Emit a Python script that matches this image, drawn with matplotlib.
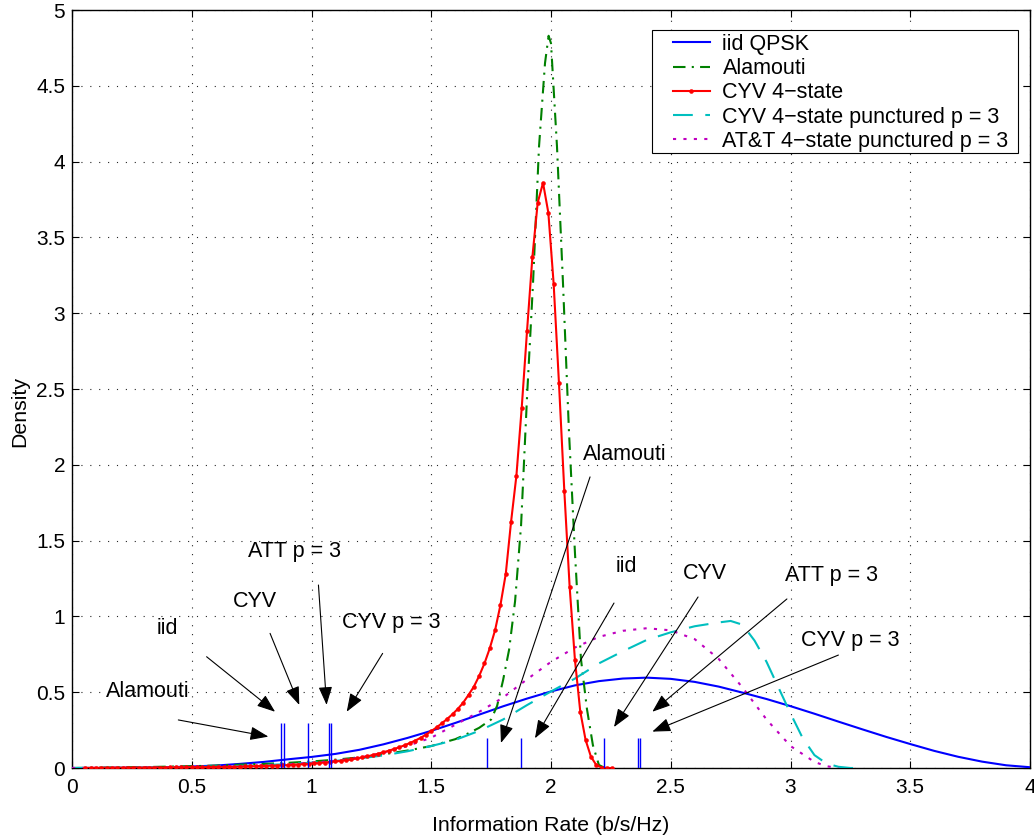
import numpy as np
import matplotlib
matplotlib.use("Agg")
import matplotlib.pyplot as plt
from matplotlib.patches import Rectangle
from matplotlib.ticker import FuncFormatter, MultipleLocator

plt.rcParams['font.family'] = ['Liberation Sans', 'DejaVu Sans']

# ---- density curves ----------------------------------------------------
iid_x = np.round(np.arange(0, 4.01, 0.1), 2)
iid_y = [0.000, 0.000, 0.001, 0.002, 0.005, 0.010, 0.016, 0.027, 0.040, 0.057,
         0.073, 0.093, 0.120, 0.156, 0.198, 0.245, 0.297, 0.352, 0.407, 0.458,
         0.505, 0.545, 0.573, 0.590, 0.596, 0.588, 0.568, 0.537, 0.497, 0.455,
         0.408, 0.358, 0.306, 0.255, 0.205, 0.158, 0.113, 0.074, 0.042, 0.018,
         0.005]

alamouti_x = [0.0, 0.1, 0.2, 0.3, 0.4, 0.5, 0.6, 0.7, 0.8, 0.9, 1.0, 1.1, 1.2,
              1.3, 1.4, 1.5, 1.6, 1.65, 1.7, 1.75, 1.775, 1.8, 1.825, 1.85,
              1.875, 1.9, 1.925, 1.95, 1.975, 1.99, 2.0, 2.025, 2.05, 2.075,
              2.1, 2.125, 2.15, 2.175, 2.2, 2.225, 2.25]
alamouti_y = [0.000, 0.002, 0.004, 0.006, 0.009, 0.012, 0.016, 0.022, 0.027,
              0.034, 0.043, 0.055, 0.070, 0.090, 0.115, 0.145, 0.190, 0.225,
              0.265, 0.320, 0.410, 0.580, 0.780, 1.100, 1.600, 2.450, 3.200,
              4.100, 4.650, 4.830, 4.780, 4.100, 3.200, 2.220, 1.420, 0.720,
              0.390, 0.150, 0.020, 0.000, 0.000]

# CYV 4-state: histogram bin centres (bins of width 4/180), bins 2..101
cyv_bins = np.arange(2, 102)
cyv_y = [0.001, 0.001, 0.001, 0.001, 0.001, 0.002, 0.002, 0.002, 0.002, 0.002,
         0.002, 0.003, 0.003, 0.003, 0.003, 0.003, 0.004, 0.004, 0.004, 0.004,
         0.005, 0.005, 0.005, 0.006, 0.006, 0.007, 0.007, 0.008, 0.008, 0.009,
         0.010, 0.011, 0.012, 0.013, 0.014, 0.015, 0.016, 0.018, 0.019, 0.021,
         0.023, 0.025, 0.028, 0.030, 0.033, 0.036, 0.040, 0.043, 0.047, 0.052,
         0.057, 0.063, 0.070, 0.077, 0.085, 0.094, 0.104, 0.114, 0.125, 0.137,
         0.150, 0.165, 0.181, 0.199, 0.220, 0.243, 0.268, 0.295, 0.324, 0.355,
         0.390, 0.431, 0.482, 0.536, 0.607, 0.690, 0.790, 0.910, 1.075, 1.280,
         1.625, 1.928, 2.377, 2.885, 3.369, 3.729, 3.860, 3.663, 3.193, 2.537,
         1.829, 1.196, 0.712, 0.372, 0.185, 0.075, 0.020, 0.003, 0.000, 0.000]

cyv_p3_x = [0.0, 0.1, 0.2, 0.3, 0.4, 0.5, 0.6, 0.7, 0.8, 0.9, 1.0, 1.1, 1.2,
            1.3, 1.4, 1.5, 1.6, 1.7, 1.8, 1.9, 2.0, 2.1, 2.2, 2.3, 2.4, 2.5,
            2.6, 2.7, 2.75, 2.8, 2.85, 2.9, 2.95, 3.0, 3.05, 3.1, 3.15, 3.2,
            3.25, 3.3]
cyv_p3_y = [0.000, 0.001, 0.002, 0.003, 0.005, 0.007, 0.010, 0.014, 0.019,
            0.026, 0.035, 0.047, 0.063, 0.083, 0.110, 0.145, 0.185, 0.245,
            0.320, 0.415, 0.505, 0.590, 0.690, 0.770, 0.845, 0.895, 0.935,
            0.960, 0.970, 0.945, 0.840, 0.700, 0.530, 0.360, 0.200, 0.085,
            0.030, 0.008, 0.000, 0.000]

att_p3_x = [0.0, 0.1, 0.2, 0.3, 0.4, 0.5, 0.6, 0.7, 0.8, 0.9, 1.0, 1.1, 1.2,
            1.3, 1.4, 1.5, 1.6, 1.7, 1.8, 1.9, 2.0, 2.1, 2.2, 2.3, 2.4, 2.5,
            2.6, 2.7, 2.8, 2.9, 3.0, 3.1, 3.15, 3.2]
att_p3_y = [0.000, 0.001, 0.002, 0.003, 0.004, 0.006, 0.009, 0.013, 0.018,
            0.025, 0.034, 0.048, 0.068, 0.100, 0.145, 0.200, 0.285, 0.370,
            0.465, 0.585, 0.700, 0.795, 0.865, 0.905, 0.922, 0.908, 0.850,
            0.720, 0.530, 0.320, 0.145, 0.040, 0.012, 0.000]

# ---- marker ticks: outage rates (left group) and mean rates (right group)
tick_names = ["Alamouti", "iid", "CYV", "ATT p = 3", "CYV p = 3"]
outage_rate = [0.873, 0.885, 0.985, 1.072, 1.080]
mean_rate = [1.731, 1.873, 2.223, 2.363, 2.370]
outage_tick_height = 0.3
mean_tick_height = 0.2

# label position, arrow tail, arrow head (data coordinates)
outage_labels = [(0.315, 0.503), (0.399, 0.917), (0.764, 1.097), (0.931, 1.431), (1.332, 0.963)]
outage_tails = [(0.444, 0.317), (0.562, 0.734), (0.827, 0.888), (1.029, 1.207), (1.297, 0.756)]
outage_heads = [(0.820, 0.207), (0.848, 0.371), (0.949, 0.416), (1.063, 0.416), (1.147, 0.371)]

mean_labels = [(2.309, 2.065), (2.316, 1.329), (2.643, 1.286), (3.172, 1.267), (3.248, 0.838)]
mean_tails = [(2.163, 1.920), (2.263, 1.088), (2.614, 1.128), (2.985, 1.115), (3.200, 0.745)]
mean_heads = [(1.791, 0.165), (1.933, 0.196), (2.263, 0.270), (2.423, 0.371), (2.423, 0.240)]

legend_labels = ["iid QPSK", "Alamouti", "CYV 4\u2212state",
                 "CYV 4\u2212state punctured p = 3",
                 "AT&T 4\u2212state punctured p = 3"]

# ---- figure ------------------------------------------------------------
fig = plt.figure(figsize=(10.34, 8.38), dpi=100)
ax = fig.add_axes([72 / 1034, 70 / 838, 958 / 1034, 758 / 838])

lw = 1.5
cyv_x = (cyv_bins + 0.5) * 4.0 / 180.0
ax.plot(iid_x, iid_y, color='#0000ff', lw=lw, label=legend_labels[0], zorder=3)
ax.plot(alamouti_x, alamouti_y, color='#008000', lw=lw,
        linestyle=(0, (6, 3, 1, 3)), label=legend_labels[1], zorder=3)
ax.plot(cyv_x, cyv_y, color='#ff0000', lw=lw, marker='o', markersize=2.8,
        markeredgewidth=0.4, label=legend_labels[2], zorder=4)
ax.plot(cyv_p3_x, cyv_p3_y, color='#00bfbf', lw=lw,
        linestyle=(0, (9.5, 6)), label=legend_labels[3], zorder=3)
ax.plot(att_p3_x, att_p3_y, color='#bf00bf', lw=lw,
        linestyle=(0, (1.5, 3.5)), label=legend_labels[4], zorder=3)

ax.vlines(outage_rate, 0, outage_tick_height, color='#0000ff', lw=1.0, zorder=5)
ax.vlines(mean_rate, 0, mean_tick_height, color='#0000ff', lw=1.0, zorder=5)

arrow_style = dict(arrowstyle='-|>,head_length=0.8,head_width=0.3',
                   color='black', lw=0.8, shrinkA=0, shrinkB=0,
                   mutation_scale=14)
for labels, tails, heads in ((outage_labels, outage_tails, outage_heads),
                             (mean_labels, mean_tails, mean_heads)):
    for name, lab, tail, head in zip(tick_names, labels, tails, heads):
        ax.annotate('', xy=head, xytext=tail, arrowprops=arrow_style, zorder=6)
        ax.text(lab[0], lab[1], name, fontsize=15.5, ha='center', va='center',
                zorder=6)

ax.set_xlim(0, 4)
ax.set_ylim(0, 5)
ax.xaxis.set_major_locator(MultipleLocator(0.5))
ax.yaxis.set_major_locator(MultipleLocator(0.5))
fmt = FuncFormatter(lambda v, p: f"{v:g}")
ax.xaxis.set_major_formatter(fmt)
ax.yaxis.set_major_formatter(fmt)
ax.tick_params(direction='in', length=5, width=0.8, top=True, right=True,
               labelsize=15)
ax.tick_params(axis='x', pad=7)
ax.tick_params(axis='y', pad=5)
ax.grid(True, color='0.15', linestyle=(0, (1, 7)), lw=0.8)
for s in ax.spines.values():
    s.set_linewidth(1.0)

ax.set_xlabel("Information Rate (b/s/Hz)", fontsize=15.3)
ax.set_ylabel("Density", fontsize=15.3)
ax.xaxis.set_label_coords(0.5, -0.063)
ax.yaxis.set_label_coords(-0.045, 0.47)

# legend box with wider side margins than top/bottom
ax.add_patch(Rectangle((0.6054, 0.8113), 0.382, 0.1623, transform=ax.transAxes,
                       facecolor='white', edgecolor='black', lw=0.8,
                       zorder=4.8))
leg = ax.legend(loc='upper left', bbox_to_anchor=(0.6273, 0.9685),
                fontsize=15.5, frameon=False, handlelength=1.7,
                handletextpad=0.6, labelspacing=0.15, borderpad=0,
                borderaxespad=0)
leg.set_zorder(5)

fig.savefig("out.png", dpi=100)
